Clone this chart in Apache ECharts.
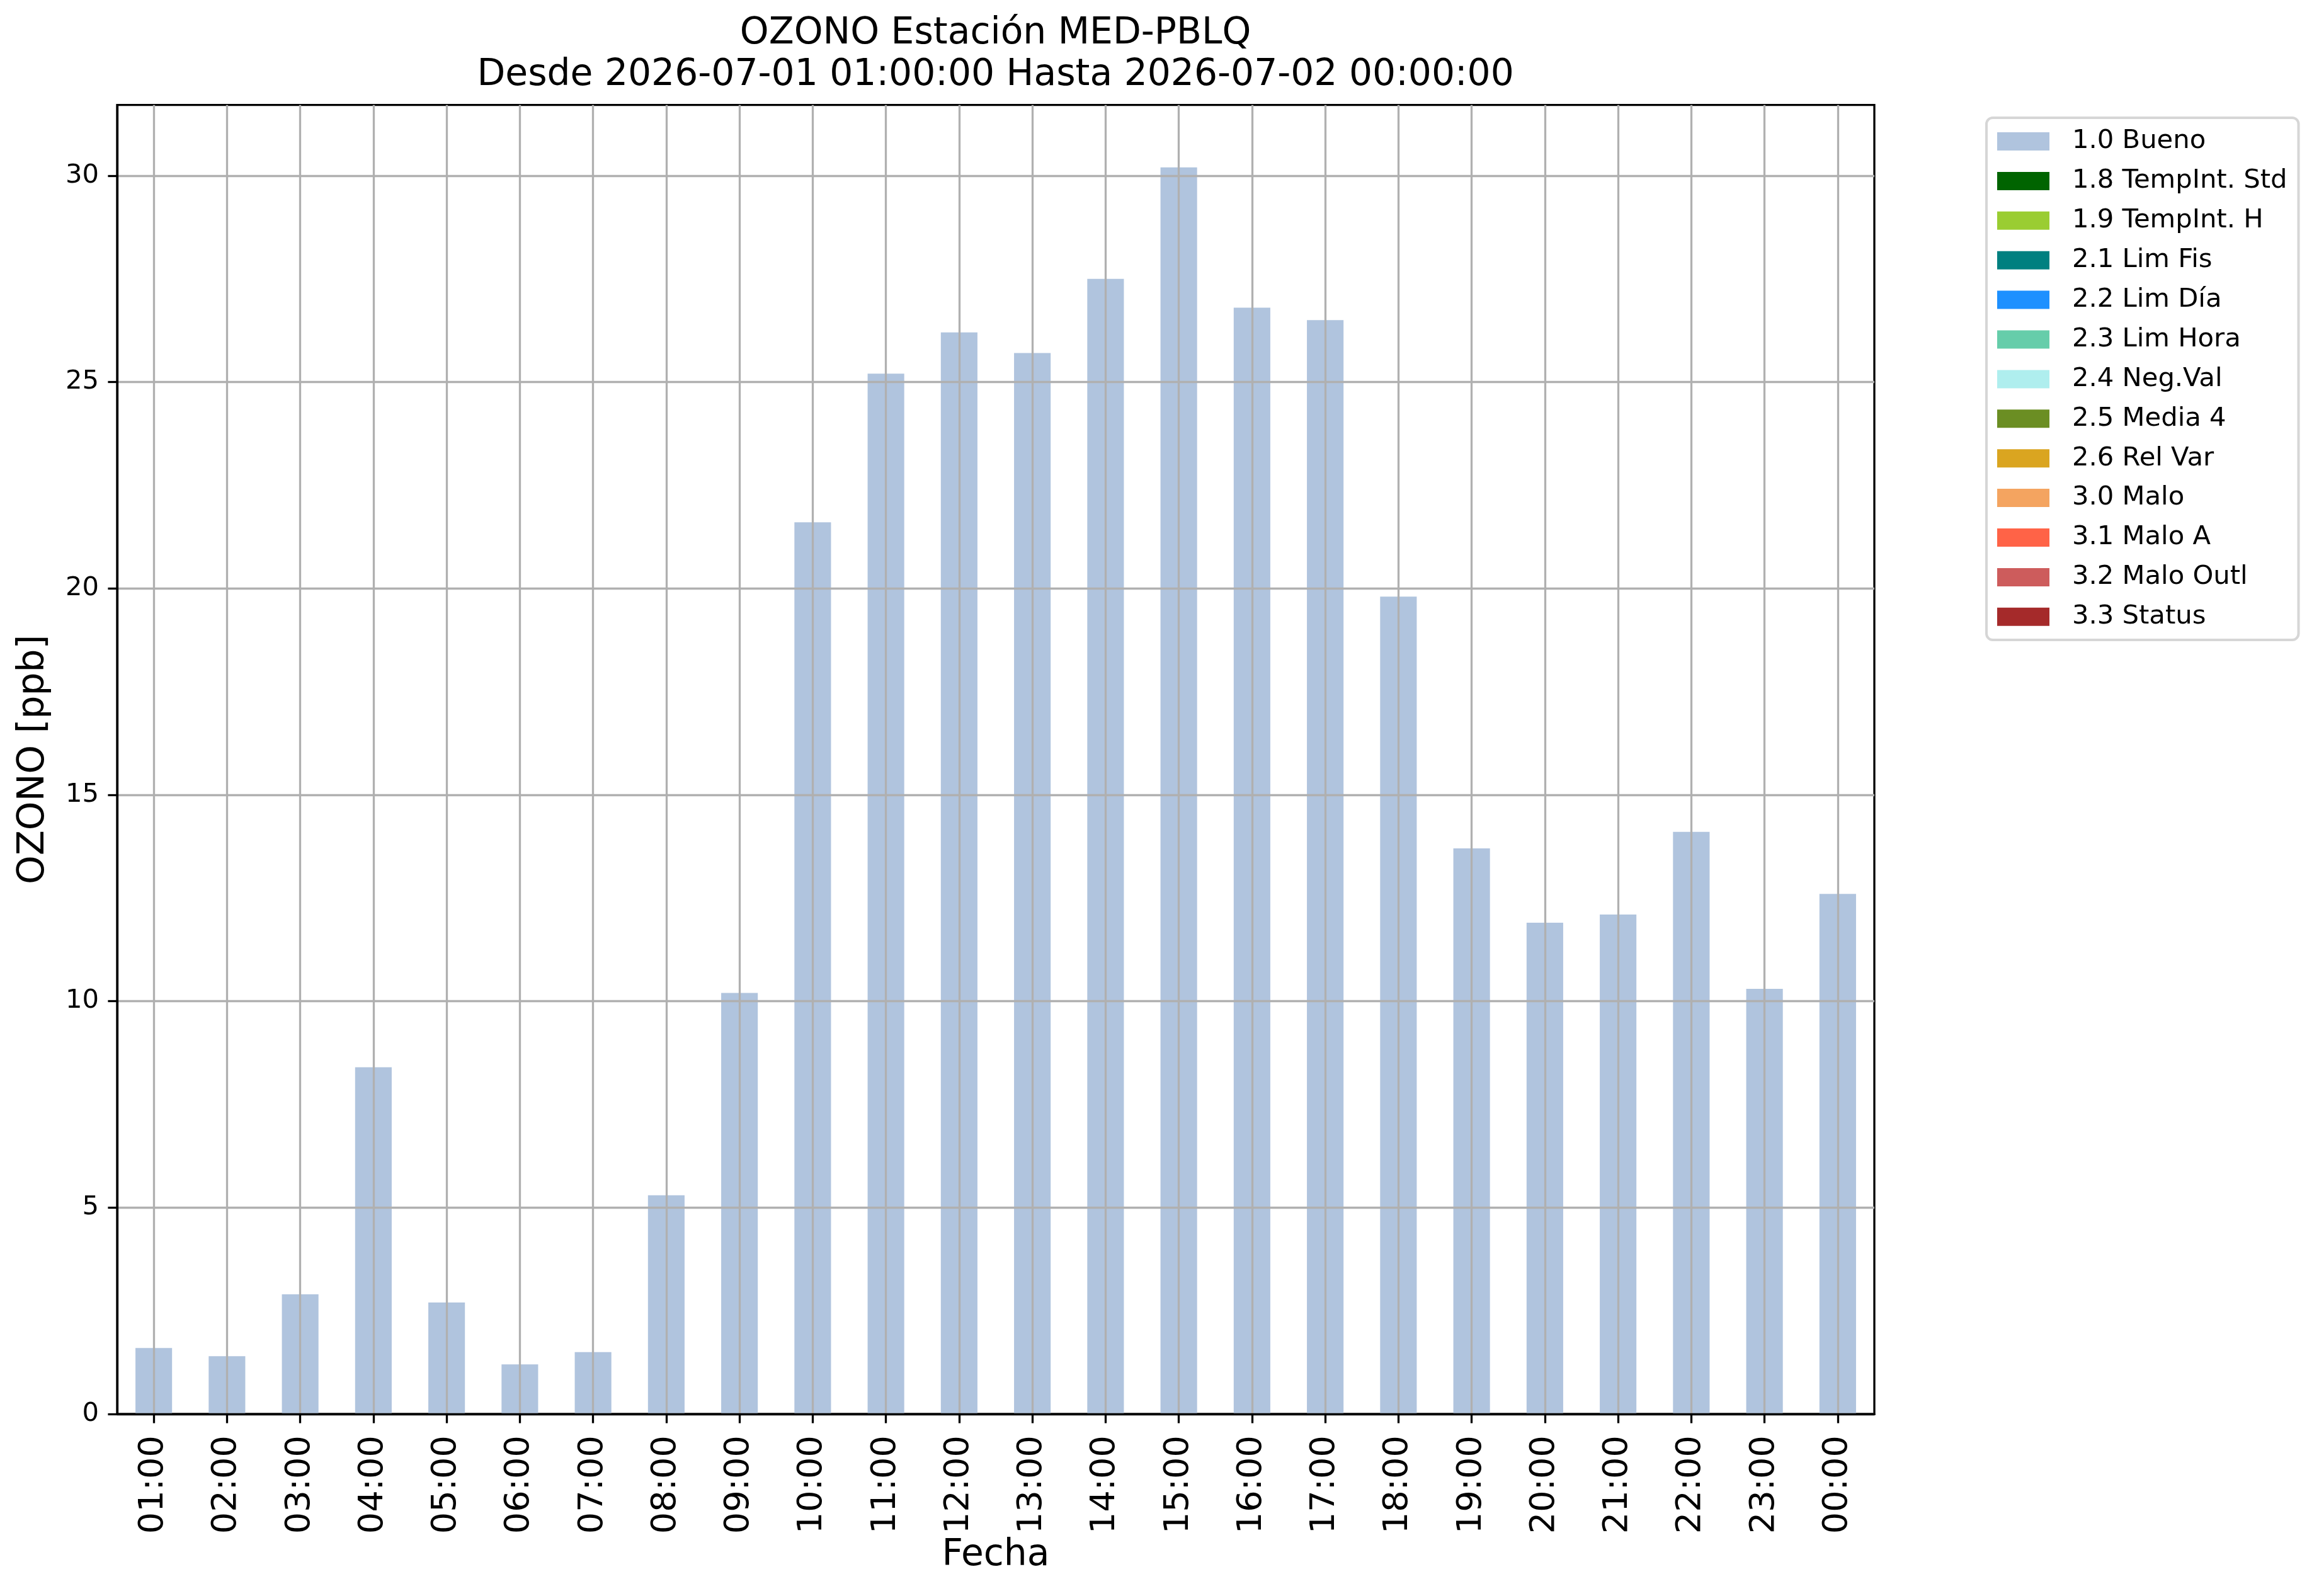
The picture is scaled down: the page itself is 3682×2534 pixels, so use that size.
<!DOCTYPE html>
<html>
<head>
<meta charset="utf-8">
<script src="https://cdn.jsdelivr.net/npm/echarts@6/dist/echarts.min.js"></script>
<style>
html,body{margin:0;padding:0;background:#fff;}
#chart{width:3682px;height:2534px;}
</style>
</head>
<body>
<div id="chart"></div>
<script>
const hours = ['01:00','02:00','03:00','04:00','05:00','06:00','07:00','08:00','09:00','10:00','11:00','12:00',
  '13:00','14:00','15:00','16:00','17:00','18:00','19:00','20:00','21:00','22:00','23:00','00:00'];
const bueno = [1.6,1.4,2.9,8.4,2.7,1.2,1.5,5.3,10.2,21.6,25.2,26.2,25.7,27.5,30.2,26.8,26.5,19.8,13.7,11.9,12.1,14.1,10.3,12.6];
const flagNames = ['1.0 Bueno','1.8 TempInt. Std','1.9 TempInt. H','2.1 Lim Fis','2.2 Lim Día','2.3 Lim Hora',
  '2.4 Neg.Val','2.5 Media 4','2.6 Rel Var','3.0 Malo','3.1 Malo A','3.2 Malo Outl','3.3 Status'];
const flagColors = ['#b0c4de','#006400','#9acd32','#008080','#1e90ff','#66cdaa','#afeeee','#6b8e23',
  '#daa520','#f4a460','#ff6347','#cd5c5c','#a52a2a'];
const flagData = [bueno,[],[],[],[],[],[],[],[],[],[],[],[]];
const yTicks = [0,5,10,15,20,25,30];
const yMax = 31.71;
const titleText = 'OZONO Estación MED-PBLQ\nDesde 2026-07-01 01:00:00 Hasta 2026-07-02 00:00:00';

const FONT = 'DejaVu Sans';
const chart = echarts.init(document.getElementById('chart'), null, {renderer:'canvas'});
const series = flagNames.map((n,i)=>({
  name:n, type:'bar', stack:'all', barWidth:'50%', data:flagData[i],
  itemStyle:{color:flagColors[i]}, z:2, emphasis:{disabled:true}
}));
chart.setOption({
  animation:false,
  backgroundColor:'#ffffff',
  textStyle:{fontFamily:FONT},
  title:{
    text:titleText, left:1580.6, top:21, padding:0, textAlign:'center',
    textStyle:{fontFamily:FONT, fontSize:58.3, fontWeight:'normal', color:'#000', lineHeight:66}
  },
  legend:{
    orient:'vertical', left:3154, top:187,
    padding:[16.5,18,15.7,17],
    itemWidth:83, itemHeight:29, itemGap:20.9,
    icon:'rect',
    backgroundColor:'rgba(255,255,255,0.8)',
    borderColor:'#d6d6d6', borderWidth:4, borderRadius:10,
    data:flagNames,
    selectedMode:false,
    textStyle:{fontFamily:FONT, fontSize:41.7, color:'#000', lineHeight:42, padding:[0,0,0,31]}
  },
  grid:{left:186, top:166.7, right:706, bottom:289, show:true, borderColor:'#000', borderWidth:3.3,
    backgroundColor:'transparent', containLabel:false},
  xAxis:{
    type:'category', data:hours, boundaryGap:true, z:3,
    name:'Fecha', nameLocation:'middle', nameGap:196, nameMoveOverlap:false,
    nameTextStyle:{fontFamily:FONT, fontSize:58.3, color:'#000'},
    axisLine:{show:true, lineStyle:{color:'#000', width:3.3}},
    axisTick:{show:true, alignWithLabel:true, length:14.6, lineStyle:{color:'#000', width:3.3}},
    axisLabel:{interval:0, rotate:90, margin:34, fontFamily:FONT, fontSize:54.2, color:'#000'},
    splitLine:{show:true, alignWithLabel:true, interval:0, lineStyle:{color:'#b0b0b0', width:3.3}}
  },
  yAxis:{
    type:'value', min:0, max:yMax, interval:5, z:3,
    name:'OZONO [ppb]', nameLocation:'middle', nameGap:103, nameRotate:90, nameMoveOverlap:false,
    nameTextStyle:{fontFamily:FONT, fontSize:58.3, color:'#000'},
    axisLine:{show:true, lineStyle:{color:'#000', width:3.3}},
    axisTick:{show:true, length:14.6, customValues:yTicks, lineStyle:{color:'#000', width:3.3}},
    axisLabel:{margin:29, fontFamily:FONT, fontSize:41.7, color:'#000', customValues:yTicks},
    splitLine:{show:true, lineStyle:{color:'#b0b0b0', width:3.3}}
  },
  series:series
});
</script>
</body>
</html>
